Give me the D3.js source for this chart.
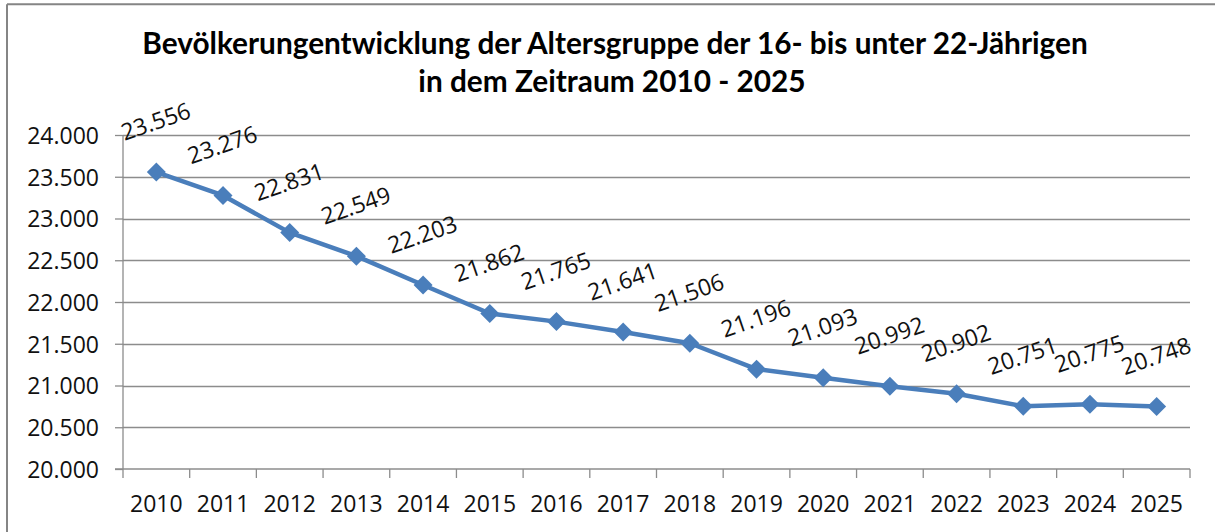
<!DOCTYPE html>
<html>
<head>
<meta charset="utf-8">
<script src="https://cdn.jsdelivr.net/npm/d3@7"></script>
<style>
  html, body { margin: 0; padding: 0; background: #fff; }
  svg { display: block; }
</style>
</head>
<body>
<svg id="chart" width="1215" height="532"></svg>
<script>
const years = ["2010","2011","2012","2013","2014","2015","2016","2017","2018","2019","2020","2021","2022","2023","2024","2025"];
const population = [23556,23276,22831,22549,22203,21862,21765,21641,21506,21196,21093,20992,20902,20751,20775,20748];
const yTicks = [20000,20500,21000,21500,22000,22500,23000,23500,24000];
const titleLines = ["Bevölkerungentwicklung der Altersgruppe der 16- bis unter 22-Jährigen", "in dem Zeitraum 2010 - 2025"];

const de = d3.formatLocale({decimal: ",", thousands: ".", grouping: [3], currency: ["", "€"]});
const fmt = de.format(",.0f");

const svg = d3.select("#chart");
const W = 1215, H = 532;
const plot = {left: 123, right: 1190, top: 135, bottom: 469};

// frame (top and left border)
svg.append("line").attr("x1", 7).attr("x2", W).attr("y1", 4.3).attr("y2", 4.3)
  .attr("stroke", "#858585").attr("stroke-width", 2);
svg.append("line").attr("x1", 7).attr("x2", 7).attr("y1", 4.3).attr("y2", H)
  .attr("stroke", "#858585").attr("stroke-width", 2);

// title
const titleFont = "Lato, 'Open Sans', sans-serif";
const t1 = svg.append("text").attr("x", 615).attr("y", 54).attr("text-anchor", "middle")
  .attr("font-family", titleFont).attr("font-weight", 700).attr("font-size", 25)
  .attr("fill", "#000").text(titleLines[0]);
const len1 = t1.node().getComputedTextLength();
const tfs = 25 * 946 / len1;
t1.attr("font-size", tfs);
svg.append("text").attr("x", 612).attr("y", 92).attr("text-anchor", "middle")
  .attr("font-family", titleFont).attr("font-weight", 700).attr("font-size", tfs)
  .attr("fill", "#000").text(titleLines[1]);

const x = d3.scaleBand().domain(years).range([plot.left, plot.right]).padding(0);
const y = d3.scaleLinear().domain([20000, 24000]).range([plot.bottom, plot.top]);

const labelFont = "'Open Sans', sans-serif";
const labelSize = 23;

// gridlines
svg.append("g").selectAll("line").data(yTicks.filter(d => d > 20000)).join("line")
  .attr("x1", plot.left).attr("x2", plot.right)
  .attr("y1", d => Math.round(y(d)) + 0.5).attr("y2", d => Math.round(y(d)) + 0.5)
  .attr("stroke", "#8c8c8c").attr("stroke-width", 1.3);

// y axis
const yAxis = svg.append("g").attr("transform", `translate(${plot.left},0)`)
  .call(d3.axisLeft(y).tickValues(yTicks).tickFormat(fmt).tickSize(8).tickPadding(16));
yAxis.select(".domain").attr("stroke", "#8c8c8c").attr("stroke-width", 1.3)
  .attr("d", `M0,${plot.top}V${plot.bottom}`);
yAxis.selectAll(".tick line").attr("stroke", "#8c8c8c").attr("stroke-width", 1.3);
yAxis.selectAll(".tick text").attr("font-family", labelFont).attr("font-size", labelSize)
  .attr("fill", "#111").attr("dy", "0.36em");

// x axis
const xAxis = svg.append("g").attr("transform", `translate(0,${plot.bottom})`)
  .call(d3.axisBottom(x).tickSize(0).tickPadding(0));
xAxis.select(".domain").attr("stroke", "#8c8c8c").attr("stroke-width", 1.3)
  .attr("d", `M${plot.left - 8},0H${plot.right}`);
xAxis.selectAll(".tick text").attr("font-family", labelFont).attr("font-size", labelSize)
  .attr("fill", "#111").attr("y", 43).attr("dy", 0);
// boundary tick marks between categories
const bounds = years.map(d => x(d)).concat([plot.right]);
svg.append("g").selectAll("line").data(bounds).join("line")
  .attr("x1", d => d).attr("x2", d => d)
  .attr("y1", plot.bottom).attr("y2", plot.bottom + 9)
  .attr("stroke", "#8c8c8c").attr("stroke-width", 1.3);

const cx = d => x(d) + x.bandwidth() / 2;
const color = "#4a7ebb";

// line
const line = d3.line().x((d, i) => cx(years[i])).y(d => y(d));
svg.append("path").datum(population).attr("d", line)
  .attr("fill", "none").attr("stroke", color).attr("stroke-width", 4.5)
  .attr("stroke-linejoin", "round");

// markers
const sym = d3.symbol().type(d3.symbolDiamond2).size(230);
svg.append("g").selectAll("path").data(population).join("path")
  .attr("d", sym)
  .attr("transform", (d, i) => `translate(${cx(years[i])},${y(d)})`)
  .attr("fill", color);

// data labels
svg.append("g").selectAll("text").data(population).join("text")
  .attr("transform", (d, i) => `translate(${cx(years[i]) + 2},${y(d) - 43}) rotate(-19)`)
  .attr("text-anchor", "middle")
  .attr("font-family", labelFont).attr("font-size", labelSize).attr("fill", "#111")
  .text(d => fmt(d));
</script>
</body>
</html>
